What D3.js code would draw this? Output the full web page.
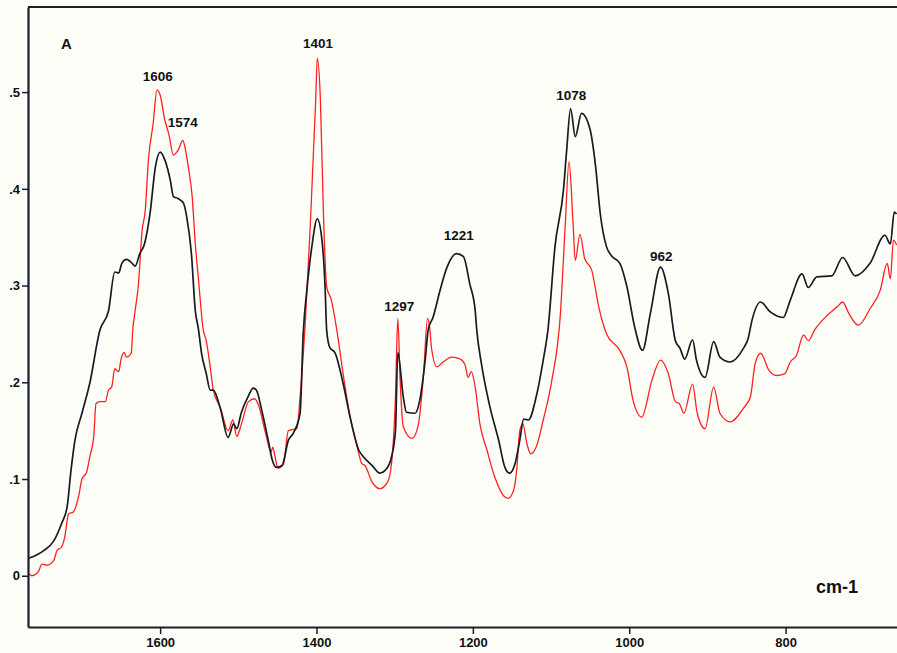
<!DOCTYPE html>
<html>
<head>
<meta charset="utf-8">
<script src="https://cdn.jsdelivr.net/npm/d3@7"></script>
<style>
  body { margin: 0; background: #fefef9; }
  svg { display: block; }
  .axis text { font-family: "Liberation Sans", Arial, sans-serif; font-weight: bold; font-size: 13px; fill: #111; }
  .axis path, .axis line { stroke: #1c1c2c; }
  .lbl { font-family: "Liberation Sans", Arial, sans-serif; font-weight: bold; font-size: 13.5px; fill: #111; }
</style>
</head>
<body>
<div id="chart"></div>
<script>
// wavenumbers (cm-1) and absorbance, black spectrum
var blackWn = [1768,1749,1736,1726,1719,1714,1709,1700,1690,1677,1666,1658,1653,1649,1643,1637,1632,1626,1620,1613,1606,1600,
  1594,1587,1583,1577,1570,1566,1560,1555,1551,1547,1541,1536,1532,1523,1513,1506,1502,1496,1487,1481,1477,1470,1461,1457,
  1451,1444,1436,1430,1421,1417,1412,1406,1399,1393,1389,1387,1383,1376,1366,1357,1346,1340,1329,1319,1310,1304,1299,1296,
  1289,1285,1274,1268,1261,1257,1251,1242,1233,1221,1212,1204,1197,1195,1189,1178,1167,1159,1153,1146,1140,1135,1129,1119,
  1110,1104,1095,1084,1080,1075,1069,1061,1050,1043,1037,1029,1023,1012,1003,993,983,973,960,950,941,
  935,929,919,914,903,892,884,871,854,848,843,832,820,803,794,779,771,760,741,727,711,692,673,666,661,658];
var blackAbs = [0.018,0.026,0.036,0.054,0.071,0.109,0.140,0.168,0.199,0.254,0.274,0.314,0.313,0.323,0.327,0.324,0.320,0.333,0.343,0.374,0.423,0.438,
  0.430,0.409,0.392,0.390,0.385,0.371,0.333,0.274,0.255,0.230,0.209,0.192,0.192,0.173,0.143,0.157,0.152,0.169,0.186,0.194,0.192,0.171,0.137,0.121,
  0.112,0.114,0.140,0.147,0.168,0.250,0.298,0.340,0.369,0.347,0.298,0.254,0.236,0.230,0.199,0.164,0.130,0.123,0.114,0.106,0.111,0.123,0.150,0.231,
  0.185,0.169,0.168,0.181,0.223,0.255,0.267,0.295,0.319,0.333,0.330,0.302,0.274,0.254,0.219,0.174,0.140,0.112,0.106,0.116,0.140,0.162,0.161,0.185,
  0.223,0.254,0.340,0.400,0.440,0.483,0.454,0.478,0.461,0.423,0.374,0.340,0.331,0.323,0.299,0.257,0.233,0.271,0.319,0.292,0.243,
  0.235,0.224,0.244,0.223,0.205,0.242,0.226,0.221,0.235,0.245,0.264,0.283,0.273,0.267,0.285,0.312,0.298,0.309,0.310,0.329,0.310,0.323,0.352,0.343,0.376,0.374];

// red spectrum
var redWn = [1768,1764,1756,1751,1745,1736,1732,1726,1722,1717,1711,1704,1700,1694,1690,1685,1682,1677,1670,1666,1662,1658,
  1653,1650,1646,1643,1637,1635,1632,1628,1623,1619,1615,1609,1604,1600,1594,1589,1583,1577,1571,1568,1564,1559,1555,1551,
  1545,1541,1536,1532,1523,1513,1507,1502,1496,1487,1479,1474,1465,1458,1456,1453,1449,1442,1436,1425,1421,1414,1408,1401,
  1399,1395,1391,1387,1381,1374,1366,1357,1349,1342,1338,1329,1319,1309,1304,1299,1296,1293,1289,1278,1270,1263,1258,1255,
  1253,1246,1238,1227,1216,1210,1206,1202,1197,1191,1182,1172,1161,1155,1148,1144,1140,1136,1131,1126,1119,1110,1099,1088,
  1082,1077,1072,1069,1063,1057,1048,1039,1029,1012,1003,995,984,971,960,950,941,936,930,919,913,903,892,
  884,871,854,845,839,832,821,812,801,794,786,777,771,763,747,734,727,719,707,692,679,670,666,662,658];
var redAbs = [0.002,0.000,0.004,0.012,0.011,0.016,0.026,0.030,0.040,0.064,0.066,0.083,0.100,0.107,0.123,0.143,0.178,0.180,0.180,0.192,0.195,0.214,
  0.211,0.224,0.231,0.226,0.230,0.254,0.274,0.299,0.357,0.378,0.430,0.467,0.502,0.497,0.471,0.457,0.435,0.440,0.450,0.442,0.423,0.392,0.343,0.307,
  0.255,0.243,0.216,0.192,0.174,0.150,0.161,0.144,0.157,0.180,0.183,0.176,0.147,0.128,0.133,0.123,0.111,0.116,0.150,0.152,0.185,0.267,0.361,0.492,
  0.535,0.492,0.371,0.299,0.285,0.254,0.209,0.164,0.137,0.116,0.114,0.097,0.090,0.097,0.116,0.185,0.266,0.202,0.154,0.142,0.155,0.209,0.266,0.255,
  0.236,0.216,0.221,0.226,0.224,0.218,0.205,0.211,0.195,0.157,0.130,0.102,0.083,0.080,0.088,0.109,0.150,0.157,0.137,0.126,0.133,0.161,0.202,0.271,
  0.360,0.428,0.367,0.326,0.353,0.328,0.316,0.278,0.250,0.233,0.216,0.181,0.164,0.202,0.223,0.209,0.180,0.178,0.168,0.198,0.168,0.152,0.195,
  0.168,0.159,0.173,0.185,0.219,0.230,0.212,0.207,0.209,0.221,0.228,0.249,0.243,0.254,0.269,0.278,0.283,0.271,0.259,0.276,0.295,0.323,0.307,0.347,0.342];

// axis ticks
var xTicks = [1600, 1400, 1200, 1000, 800];
var yTicks = [0, 0.1, 0.2, 0.3, 0.4, 0.5];

// peak labels: text, wavenumber and absorbance of the label anchor
var peakText = ["1606", "1574", "1401", "1297", "1221", "1078", "962"];
var peakWn = [1603, 1571, 1398, 1294, 1218, 1074, 959];
var peakAbs = [0.512, 0.464, 0.546, 0.274, 0.347, 0.492, 0.325];

var W = 897, H = 653;
var margin = {top: 7, right: 0, bottom: 26, left: 28},
    width = W - margin.left - margin.right,
    height = H - margin.top - margin.bottom;

var x = d3.scaleLinear().domain([1769, 657.5]).range([0, width]);
var y = d3.scaleLinear().domain([-0.053, 0.588]).range([height, 0]);

var svg = d3.select("#chart").append("svg")
    .attr("width", W)
    .attr("height", H)
  .append("g")
    .attr("transform", "translate(" + margin.left + "," + margin.top + ")");

// spectra
function pairs(wn, ab) { return wn.map(function(w, i) { return [w, ab[i]]; }); }
var line = d3.line()
    .x(function(d) { return x(d[0]); })
    .y(function(d) { return y(d[1]); })
    .curve(d3.curveMonotoneX);

svg.append("path")
    .datum(pairs(redWn, redAbs))
    .attr("fill", "none")
    .attr("stroke", "#ff2020")
    .attr("stroke-width", 1.3)
    .attr("d", line);

svg.append("path")
    .datum(pairs(blackWn, blackAbs))
    .attr("fill", "none")
    .attr("stroke", "#1a1a22")
    .attr("stroke-width", 1.7)
    .attr("d", line);

// axes
var fmtY = function(d) { return d === 0 ? "0" : d3.format(".1f")(d).replace(/^0/, ""); };

svg.append("g")
    .attr("class", "axis")
    .call(d3.axisLeft(y).tickValues(yTicks).tickFormat(fmtY).tickSize(6).tickSizeOuter(0).tickPadding(2))
    .call(function(g) { g.select(".domain").attr("stroke-width", 2.2); g.selectAll("line").attr("stroke-width", 1.5); });

svg.append("g")
    .attr("class", "axis")
    .attr("transform", "translate(0," + height + ")")
    .call(d3.axisBottom(x).tickValues(xTicks).tickFormat(d3.format("d")).tickSize(7).tickSizeOuter(0).tickPadding(4))
    .call(function(g) { g.select(".domain").attr("stroke-width", 2.2); g.selectAll("line").attr("stroke-width", 1.5); });

// top frame line
svg.append("line")
    .attr("x1", 0).attr("x2", width)
    .attr("y1", 0).attr("y2", 0)
    .attr("stroke", "#1c1c2c")
    .attr("stroke-width", 2.2);

// peak labels
svg.selectAll(".lbl")
    .data(peakText)
  .enter().append("text")
    .attr("class", "lbl")
    .attr("text-anchor", "middle")
    .attr("x", function(d, i) { return x(peakWn[i]); })
    .attr("y", function(d, i) { return y(peakAbs[i]); })
    .text(function(d) { return d; });

svg.append("text")
    .attr("class", "lbl")
    .attr("x", 33).attr("y", 42)
    .style("font-size", "15px")
    .text("A");

svg.append("text")
    .attr("class", "lbl")
    .attr("x", 809).attr("y", 586)
    .attr("text-anchor", "middle")
    .style("font-size", "18px")
    .text("cm-1");
</script>
</body>
</html>
